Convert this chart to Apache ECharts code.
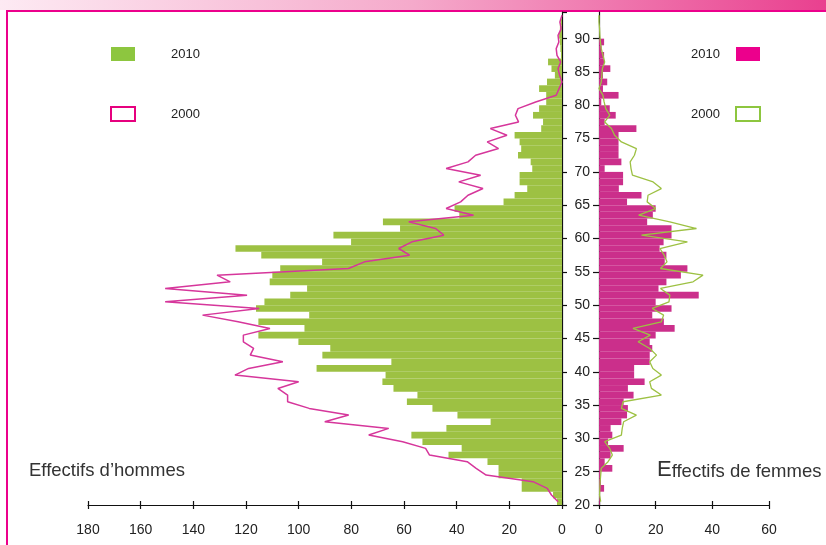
<!DOCTYPE html>
<html>
<head>
<meta charset="utf-8">
<script src="https://cdn.jsdelivr.net/npm/echarts@6/dist/echarts.min.js"></script>
<style>
html, body { margin: 0; padding: 0; background: #fff; }
#main { width: 826px; height: 545px; }
</style>
</head>
<body>
<div id="main"></div>
<script>
// ages 20 .. 93, one bar per year
let ages = [20,21,22,23,24,25,26,27,28,29,30,31,32,33,34,35,36,37,38,39,
	40,41,42,43,44,45,46,47,48,49,50,51,52,53,54,55,56,57,58,59,
	60,61,62,63,64,65,66,67,68,69,70,71,72,73,74,75,76,77,78,79,
	80,81,82,83,84,85,86,87,88,89,90,91,92,93];

// effectifs d'hommes 2010 (barres vertes)
let hommes2010 = [1.9,3.4,15.3,15.3,24.1,24.1,28.3,43.1,38.1,53,
	57.2,43.9,27.1,39.7,49.2,58.9,54.9,64,68.2,67,
	93.2,64.8,91,88,100.1,115.3,97.8,115.3,96,116.2,
	113,103.2,96.8,111,110,107,91.1,114.2,124,80.1,
	86.8,61.5,68,39,40.8,22.2,18,13.2,16.1,16.1,
	11.3,11.9,16.7,15.5,16.1,18,7.9,7.2,11,8.7,
	6,6,8.7,5.7,2.7,4,5.3,0.4,0.6,0.8,
	1.1,0.8,0.5,0];

// effectifs d'hommes 2000 (ligne rose)
let hommes2000 = [1.5,4,5.6,11,28.8,32.6,36,50.3,51.8,60.5,
	73.4,65.8,90.1,81,96,104.2,104.2,107.9,100,124.2,
	119,106,118.4,117.1,121,121,110.9,123,136.5,115,
	150.7,119.6,150.7,126,131,81.1,75,57.9,62,57,
	44.9,48,58.2,33.6,44,38.5,35.7,30,39.2,30.9,
	44,35.7,32.8,24.1,28.4,20.9,27.2,16.5,17.7,16.7,
	10,2.2,1.1,0,0.9,1.5,0.5,1.9,2.2,1.2,
	1.5,0.3,0.8,0];

// effectifs de femmes 2010 (barres magenta)
let femmes2010 = [0.3,0.3,1.8,0.7,0.5,4.7,2,4.1,8.7,3.2,
	4.7,4.1,7.9,9.9,10.2,8.7,12.2,10.2,16.1,12.4,
	12.4,17.9,17.9,18.8,17.9,20,26.7,22.9,18.8,25.6,
	20,35.2,21,23.8,28.9,31.2,23.2,23.8,21.4,22.8,
	25.6,25.6,17,19,20,9.9,15,7,8.5,8.5,
	2,7.9,6.9,6.9,6.9,6.9,13.2,2,5.9,3.8,
	0.8,6.9,1.4,2.9,1.4,4,1.8,1.8,0.9,1.8,
	0,0,0,0];

// effectifs de femmes 2000 (ligne verte)
let femmes2000 = [0.6,0.2,0.3,0.4,0.6,0.8,3.2,4.7,3.8,2,
	7.9,8.2,8.7,13.2,7.9,8.5,22,18.5,17.9,22,
	19,17.9,20.3,17.9,13.8,18.1,12,22,22.8,18.8,
	24.7,25,21.7,33.2,36.7,21.7,24,23,21.5,31.2,
	15,34.4,25,14,20,17,17.3,22,19.1,11.8,
	11.3,11,12.5,13.2,7.9,5.5,4.4,2,3.8,2.4,
	1.8,1.4,0,0.8,1,1.2,2,1.4,0.8,0.5,
	0.3,0.2,0,0];

let vert = '#9dc143';
let rose = '#d6369b';
let magenta = '#cb2f8b';
let police = '"Liberation Sans", Arial, sans-serif';

let chart = echarts.init(document.getElementById('main'));

// axe horizontal ; "inside" sert à doubler les graduations de l'autre côté
let axeX = function(grid, max, inside){
	return {
		gridIndex: grid,
		type: 'value',
		position: 'bottom',
		inverse: grid === 0,
		min: 0,
		max: max,
		interval: 20,
		axisLine: { show: !inside, onZero: false, lineStyle: { color: '#111', width: 1.2 } },
		axisTick: { show: true, inside: inside, length: 4, lineStyle: { color: '#111', width: 1.2 } },
		axisLabel: { show: !inside, margin: 18, fontSize: 14, color: '#222', fontFamily: police },
		splitLine: { show: false }
	};
};

let option = {
	animation: false,
	textStyle: { fontFamily: police },
	grid: [
		{ left: 88, top: 12, width: 474, height: 493 },
		{ left: 599, top: 12, width: 170, height: 493 }
	],
	xAxis: [
		axeX(0, 180, false),
		axeX(0, 180, true),
		axeX(1, 60, false),
		axeX(1, 60, true)
	],
	yAxis: [
		{ gridIndex: 0, type: 'category', data: ages, show: false },
		{
			gridIndex: 0, type: 'value', position: 'right', min: 20, max: 94, interval: 5,
			axisLine: { show: true, lineStyle: { color: '#111', width: 1.2 } },
			axisTick: { show: true, length: 5, lineStyle: { color: '#111', width: 1.2 } },
			axisLabel: { show: false },
			splitLine: { show: false }
		},
		{ gridIndex: 1, type: 'category', data: ages, show: false },
		{
			gridIndex: 1, type: 'value', position: 'left', min: 20, max: 94, interval: 5,
			axisLine: { show: true, lineStyle: { color: '#111', width: 1.2 } },
			axisTick: { show: true, length: 6, lineStyle: { color: '#111', width: 1.2 } },
			axisLabel: { margin: 9, fontSize: 14, color: '#222', fontFamily: police, showMaxLabel: false },
			splitLine: { show: false }
		}
	],
	legend: [
		{
			orient: 'vertical', left: 110, top: 47, padding: 0,
			itemWidth: 24, itemHeight: 14, itemGap: 45,
			selectedMode: false,
			formatter: function(n){ return n.slice(-4); },
			textStyle: { fontSize: 13, color: '#222', padding: [0, 0, 0, 31] },
			data: [
				{ name: 'Hommes 2010', icon: 'rect', itemStyle: { color: '#8dc63f' } },
				{ name: 'Hommes 2000', icon: 'rect', itemStyle: { color: '#fff', borderColor: '#e6007e', borderWidth: 2 } }
			]
		},
		{
			orient: 'vertical', right: 65, top: 47, align: 'right', padding: 0,
			itemWidth: 24, itemHeight: 14, itemGap: 45,
			selectedMode: false,
			formatter: function(n){ return n.slice(-4); },
			textStyle: { fontSize: 13, color: '#222', padding: [0, 11, 0, 0] },
			data: [
				{ name: 'Femmes 2010', icon: 'rect', itemStyle: { color: '#ec008c' } },
				{ name: 'Femmes 2000', icon: 'rect', itemStyle: { color: '#fff', borderColor: '#8dc63f', borderWidth: 2 } }
			]
		}
	],
	graphic: [
		{
			type: 'rect', silent: true,
			shape: { x: 0, y: 0, width: 826, height: 10 },
			style: { fill: new echarts.graphic.LinearGradient(0, 0, 1, 0, [
				{ offset: 0, color: '#fdeaf3' },
				{ offset: 0.5, color: '#f5aacb' },
				{ offset: 1, color: '#e9408f' }
			]) }
		},
		{
			type: 'rect', silent: true,
			shape: { x: 7, y: 11, width: 850, height: 560 },
			style: { fill: 'none', stroke: '#ec008c', lineWidth: 2 }
		},
		{
			type: 'text', left: 29, top: 461,
			style: { text: 'Effectifs d’hommes', font: '18.5px ' + police, fill: '#333' }
		},
		{
			type: 'text', left: 657, top: 459,
			style: {
				text: '{a|E}{b|ffectifs de femmes}',
				fill: '#333',
				rich: {
					a: { fontSize: 22, fontFamily: police, fill: '#333', verticalAlign: 'bottom' },
					b: { fontSize: 18.5, fontFamily: police, fill: '#333', verticalAlign: 'bottom' }
				}
			}
		}
	],
	series: [
		{
			name: 'Hommes 2010', type: 'bar', xAxisIndex: 0, yAxisIndex: 0,
			data: hommes2010, barCategoryGap: '0%',
			itemStyle: { color: vert }
		},
		{
			name: 'Hommes 2000', type: 'line', xAxisIndex: 0, yAxisIndex: 0,
			data: hommes2000, symbol: 'none', z: 3,
			lineStyle: { color: rose, width: 1.5 },
			itemStyle: { color: rose }
		},
		{
			name: 'Femmes 2010', type: 'bar', xAxisIndex: 2, yAxisIndex: 2,
			data: femmes2010, barCategoryGap: '0%',
			itemStyle: { color: magenta }
		},
		{
			name: 'Femmes 2000', type: 'line', xAxisIndex: 2, yAxisIndex: 2,
			data: femmes2000, symbol: 'none', z: 3,
			lineStyle: { color: vert, width: 1.3 },
			itemStyle: { color: vert }
		}
	]
};

chart.setOption(option);
</script>
</body>
</html>
